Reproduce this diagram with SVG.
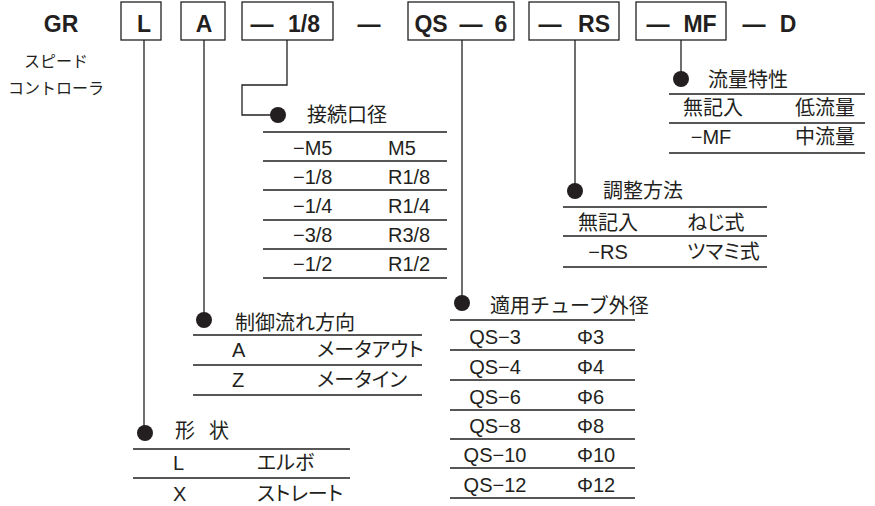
<svg xmlns="http://www.w3.org/2000/svg" width="875" height="506" viewBox="0 0 875 506">
<style>
text{font-family:"Liberation Sans","Noto Sans CJK JP",sans-serif;fill:#231f20}
.code{font-size:23px;font-weight:bold}
.sub{font-size:16px}
.hd{font-size:20px}
.td{font-size:20px}
.jp{font-size:20px;font-family:"Noto Sans CJK JP",sans-serif;font-feature-settings:"palt"}
.mid{text-anchor:middle}
.box{fill:none;stroke:#231f20;stroke-width:1.3}
.rule{stroke:#231f20;stroke-width:1.6}
.con{fill:none;stroke:#231f20;stroke-width:1.3}
.dot{fill:#231f20}
</style>
<rect width="875" height="506" fill="#fff"/>
<g id="model">
<text class="code mid" x="61" y="32">GR</text>
<rect class="box" x="121" y="2" width="40" height="38"/>
<text class="code mid" x="144" y="32">L</text>
<rect class="box" x="181" y="2" width="44" height="38"/>
<text class="code mid" x="204" y="32">A</text>
<rect class="box" x="242" y="2" width="91" height="38"/>
<text class="code mid" x="262" y="32">—</text>
<text class="code mid" x="304" y="32">1/8</text>
<text class="code mid" x="369" y="32">—</text>
<rect class="box" x="408" y="2" width="106" height="38"/>
<text class="code mid" x="431" y="32">QS</text>
<text class="code mid" x="471" y="32">—</text>
<text class="code mid" x="501" y="32">6</text>
<rect class="box" x="529" y="2" width="90" height="38"/>
<text class="code mid" x="550" y="32">—</text>
<text class="code mid" x="594" y="32">RS</text>
<rect class="box" x="636" y="2" width="90" height="38"/>
<text class="code mid" x="658" y="32">—</text>
<text class="code mid" x="700" y="32">MF</text>
<text class="code mid" x="754" y="32">—</text>
<text class="code mid" x="788" y="32">D</text>
<text class="sub mid" x="56" y="67">スピード</text>
<text class="sub mid" x="56" y="94">コントローラ</text>
</g>
<g id="connectors">
<path class="con" d="M144 40V433"/>
<path class="con" d="M204 40V320"/>
<path class="con" d="M287 40V85H242V115H278"/>
<path class="con" d="M462 40V303"/>
<path class="con" d="M575 40V191"/>
<path class="con" d="M681 40V79"/>
<circle class="dot" cx="145" cy="433" r="8"/>
<circle class="dot" cx="204" cy="320" r="8"/>
<circle class="dot" cx="278" cy="115" r="8"/>
<circle class="dot" cx="462" cy="303" r="8"/>
<circle class="dot" cx="575" cy="191" r="8"/>
<circle class="dot" cx="681" cy="79" r="8"/>
</g>
<g id="flow-characteristic">
<text class="hd" x="708" y="87">流量特性</text>
<path class="rule" d="M669 94H865M669 123H865M669 153H865"/>
<text class="jp mid" x="713" y="115">無記入</text>
<text class="jp" x="795" y="115">低流量</text>
<text class="td mid" x="711" y="144">−MF</text>
<text class="jp" x="795" y="144">中流量</text>
</g>
<g id="adjustment">
<text class="hd" x="603" y="198">調整方法</text>
<path class="rule" d="M563 207H767M563 236H767M563 267H767"/>
<text class="jp mid" x="608" y="230">無記入</text>
<text class="jp" x="687" y="230">ねじ式</text>
<text class="td mid" x="608" y="259">−RS</text>
<text class="jp" x="687" y="259">ツマミ式</text>
</g>
<g id="port-size">
<text class="hd" x="307" y="122">接続口径</text>
<path class="rule" d="M263 132H447M263 161H447M263 190H447M263 220H447M263 249H447M263 278H447"/>
<text class="td" x="293" y="155">−M5</text><text class="td" x="388" y="155">M5</text>
<text class="td" x="293" y="184">−1/8</text><text class="td" x="388" y="184">R1/8</text>
<text class="td" x="293" y="213">−1/4</text><text class="td" x="388" y="213">R1/4</text>
<text class="td" x="293" y="242">−3/8</text><text class="td" x="388" y="242">R3/8</text>
<text class="td" x="293" y="271">−1/2</text><text class="td" x="388" y="271">R1/2</text>
</g>
<g id="tube-od">
<text class="hd" x="490" y="313">適用チューブ外径</text>
<path class="rule" d="M450 320H635M450 350H635M450 380H635M450 410H635M450 439H635M450 468H635M450 498H635"/>
<text class="td mid" x="495" y="344">QS−3</text><text class="td" x="577" y="344">Φ3</text>
<text class="td mid" x="495" y="374">QS−4</text><text class="td" x="577" y="374">Φ4</text>
<text class="td mid" x="495" y="404">QS−6</text><text class="td" x="577" y="404">Φ6</text>
<text class="td mid" x="495" y="433">QS−8</text><text class="td" x="577" y="433">Φ8</text>
<text class="td mid" x="495" y="462">QS−10</text><text class="td" x="577" y="462">Φ10</text>
<text class="td mid" x="495" y="492">QS−12</text><text class="td" x="577" y="492">Φ12</text>
</g>
<g id="flow-direction">
<text class="hd" x="235" y="330">制御流れ方向</text>
<path class="rule" d="M193 335H422M193 365H422M193 395H422"/>
<text class="td" x="232" y="357">A</text><text class="jp" x="317" y="357">メータアウト</text>
<text class="td" x="232" y="387">Z</text><text class="jp" x="317" y="387">メータイン</text>
</g>
<g id="shape">
<text class="hd" y="438"><tspan x="175">形</tspan><tspan x="209">状</tspan></text>
<path class="rule" d="M133 449H350M133 478H350"/>
<text class="td" x="173" y="470">L</text><text class="jp" x="257" y="470">エルボ</text>
<text class="td" x="173" y="501">X</text><text class="jp" x="257" y="501">ストレート</text>
</g>
</svg>
